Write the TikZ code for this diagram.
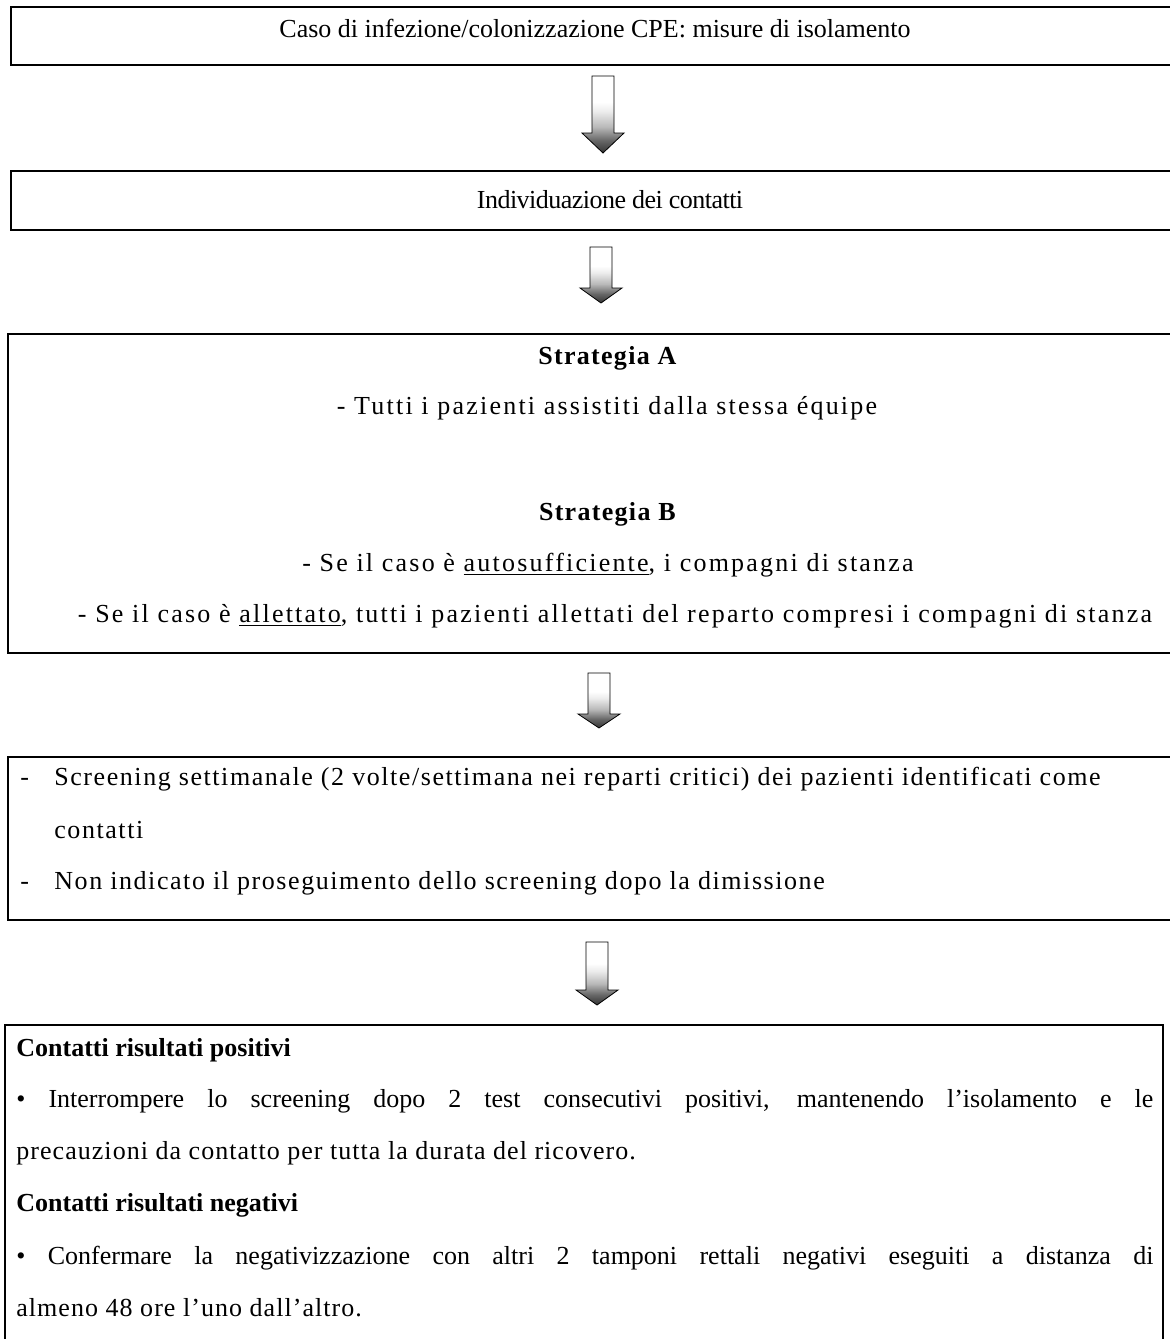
\documentclass[tikz,border=0pt]{standalone}
\usepackage{fontspec}
\setmainfont{Liberation Serif}
\newfontfamily\spacedA[LetterSpace=8.5]{Liberation Serif}
\newfontfamily\spacedB[LetterSpace=5]{Liberation Serif}
\newfontfamily\spacedC[LetterSpace=6]{Liberation Serif}
\newfontfamily\spacedD[LetterSpace=4]{Liberation Serif}
\newfontfamily\tightA[LetterSpace=-2]{Liberation Serif}
\usetikzlibrary{calc}
\pgfdeclareverticalshading{arrowshade}{100bp}{color(0bp)=(black!85); color(25bp)=(black!80); color(33bp)=(black!60); color(42bp)=(gray!55); color(52bp)=(gray!15); color(58bp)=(white); color(100bp)=(white)}
\tikzset{
  boxframe/.style={draw=black, line width=0.8pt, rectangle, anchor=north west, inner sep=0pt},
  txt/.style={anchor=base, inner sep=0pt, font=\fontsize{13pt}{16pt}\selectfont},
  txtl/.style={txt, anchor=base west},
  arrowbody/.style={draw=black, line width=0.4pt, shading=arrowshade},
}
\newcommand{\blockarrow}[3]{%
  \path[arrowbody] ($(#1)+(-11,0)$) -- ($(#2)+(-11,-#3)$) -- ($(#2)+(-21,-#3)$) -- (#2)
    -- ($(#2)+(21,-#3)$) -- ($(#2)+(11,-#3)$) -- ($(#1)+(11,0)$) -- cycle;}
\begin{document}
\begin{tikzpicture}[x=0.5pt,y=-0.5pt]
\useasboundingbox[fill=white] (0,0) rectangle (1170,1339);

% boxes
\node[boxframe, minimum width=585pt, minimum height=29pt] (b1) at (10,6) {};
\node[boxframe, minimum width=585pt, minimum height=29.5pt] (b2) at (10,170) {};
\node[boxframe, minimum width=589pt, minimum height=159.5pt] (b3) at (7,333) {};
\node[boxframe, minimum width=589pt, minimum height=81.5pt] (b4) at (7,756) {};
\node[boxframe, minimum width=579pt, minimum height=160.5pt] (b5) at (4,1024) {};

% box 1 and 2 texts
\node[txt] (t1) at (595,37) {Caso di infezione/colonizzazione CPE: misure di isolamento};
\node[txt] (t2) at (610,208) {\tightA Individuazione dei contatti};

% box 3
\node[txt] (sa) at (608,364) {\spacedB\textbf{Strategia A}};
\node[txt] (ta) at (607,414) {\spacedA - Tutti i pazienti assistiti dalla stessa équipe};
\node[txt] (sb) at (608,520) {\spacedB\textbf{Strategia B}};
\node[txt] (tb1) at (608,571) {\spacedA - Se il caso è \underline{autosufficiente}, i compagni di stanza};
\node[txt] (tb2) at (615,622) {\spacedA - Se il caso è \underline{allettato}, tutti i pazienti allettati del reparto compresi i compagni di stanza};

% box 4
\node[txtl] (d1) at (20,785) {-};
\node[txtl] (s1) at (54,785) {\spacedC Screening settimanale (2 volte/settimana nei reparti critici) dei pazienti identificati come};
\node[txtl] (s2) at (54,838) {\spacedC contatti};
\node[txtl] (d2) at (20,889) {-};
\node[txtl] (s3) at (54,889) {\spacedC Non indicato il proseguimento dello screening dopo la dimissione};

% box 5
\node[txtl] (h1) at (16,1056) {\textbf{Contatti risultati positivi}};
\node[txtl] (p1) at (16,1107) {\makebox[568.5pt][s]{• Interrompere lo screening dopo 2 test consecutivi positivi, mantenendo l’isolamento e le}};
\node[txtl] (p2) at (16,1159) {\spacedD precauzioni da contatto per tutta la durata del ricovero.};
\node[txtl] (h2) at (16,1211) {\textbf{Contatti risultati negativi}};
\node[txtl] (p3) at (16,1264) {\makebox[568.5pt][s]{• Confermare la negativizzazione con altri 2 tamponi rettali negativi eseguiti a distanza di}};
\node[txtl] (p4) at (16,1316) {\spacedD almeno 48 ore l’uno dall’altro.};

% block arrows
\coordinate (a1s) at (603,76);  \coordinate (a1e) at (603,153);
\coordinate (a2s) at (601,247); \coordinate (a2e) at (601,303);
\coordinate (a3s) at (599,673); \coordinate (a3e) at (599,728);
\coordinate (a4s) at (597,942); \coordinate (a4e) at (597,1005);
\blockarrow{a1s}{a1e}{20}
\blockarrow{a2s}{a2e}{15}
\blockarrow{a3s}{a3e}{14}
\blockarrow{a4s}{a4e}{15}
\end{tikzpicture}
\end{document}
